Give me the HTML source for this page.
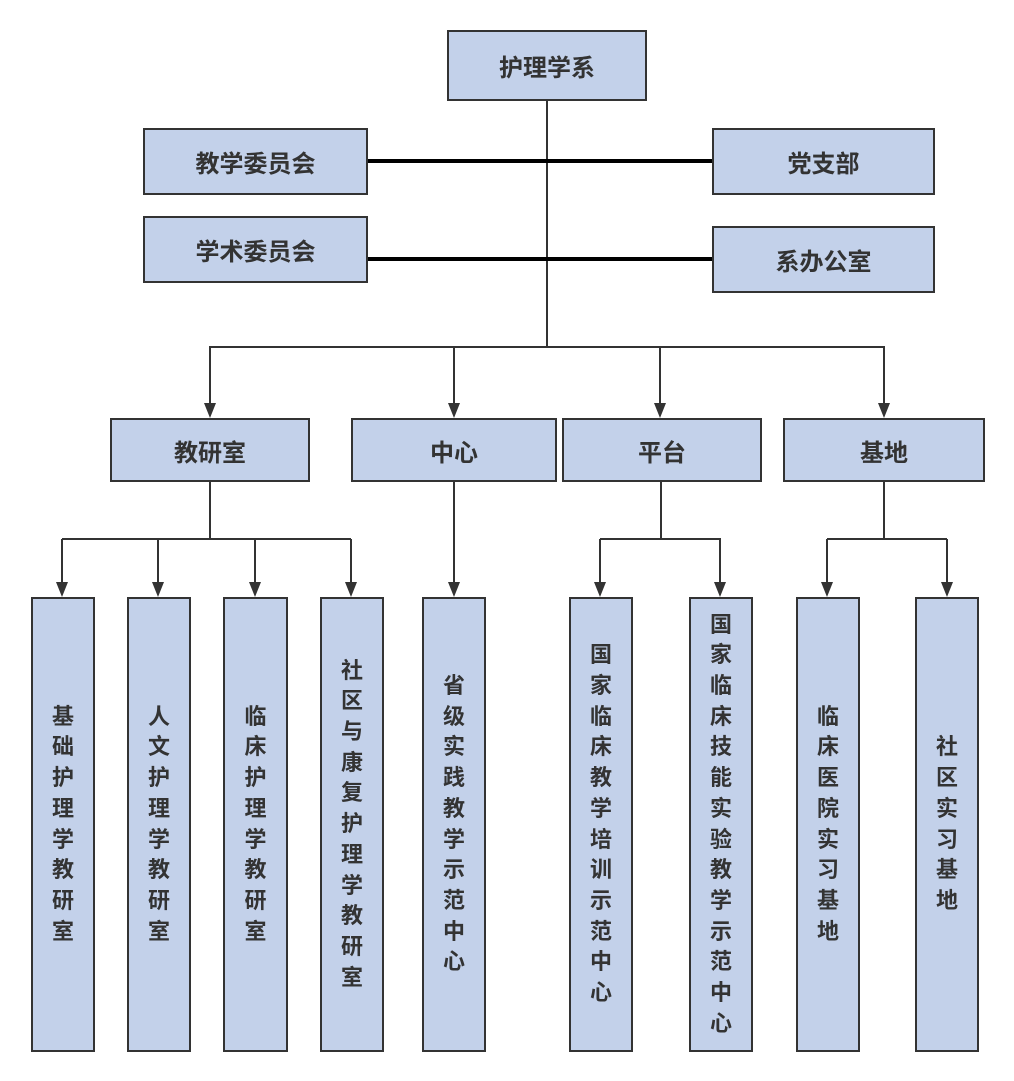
<!DOCTYPE html>
<html><head><meta charset="utf-8"><style>
body{margin:0;width:1014px;height:1081px;background:#fff;position:relative;overflow:hidden;font-family:"Liberation Sans","Noto Sans CJK SC",sans-serif;}
.b{position:absolute;box-sizing:border-box;background:#c3d1ea;border:2px solid #333;display:flex;align-items:center;justify-content:center;font-weight:bold;font-size:24px;color:#333;}
.v{flex-direction:column;line-height:30.7px;text-align:center;font-size:22px;}
.v span{display:block;width:22px;}
svg{position:absolute;left:0;top:0;}
</style></head><body>
<svg width="1014" height="1081">
<g stroke="#333" stroke-width="2" fill="none">
<line x1="547" y1="100" x2="547" y2="347"/>
<line x1="209" y1="347" x2="885" y2="347"/>
<line x1="210" y1="347" x2="210" y2="406"/>
<line x1="454" y1="347" x2="454" y2="406"/>
<line x1="660" y1="347" x2="660" y2="406"/>
<line x1="884" y1="347" x2="884" y2="406"/>
<line x1="210" y1="481" x2="210" y2="539"/>
<line x1="62" y1="539" x2="351" y2="539"/>
<line x1="62" y1="539" x2="62" y2="585"/>
<line x1="158" y1="539" x2="158" y2="585"/>
<line x1="255" y1="539" x2="255" y2="585"/>
<line x1="351" y1="539" x2="351" y2="585"/>
<line x1="454" y1="481" x2="454" y2="585"/>
<line x1="661" y1="481" x2="661" y2="539"/>
<line x1="600" y1="539" x2="721" y2="539"/>
<line x1="600" y1="539" x2="600" y2="585"/>
<line x1="720" y1="539" x2="720" y2="585"/>
<line x1="884" y1="481" x2="884" y2="539"/>
<line x1="827" y1="539" x2="947" y2="539"/>
<line x1="827" y1="539" x2="827" y2="585"/>
<line x1="947" y1="539" x2="947" y2="585"/>
</g>
<g stroke="#000" stroke-width="4">
<line x1="367" y1="161" x2="712" y2="161"/>
<line x1="367" y1="259" x2="712" y2="259"/>
</g>
<g fill="#333">
<polygon points="204,403 216,403 210,418"/>
<polygon points="448,403 460,403 454,418"/>
<polygon points="654,403 666,403 660,418"/>
<polygon points="878,403 890,403 884,418"/>
<polygon points="56,582 68,582 62,597"/>
<polygon points="152,582 164,582 158,597"/>
<polygon points="249,582 261,582 255,597"/>
<polygon points="345,582 357,582 351,597"/>
<polygon points="448,582 460,582 454,597"/>
<polygon points="594,582 606,582 600,597"/>
<polygon points="714,582 726,582 720,597"/>
<polygon points="821,582 833,582 827,597"/>
<polygon points="941,582 953,582 947,597"/>
</g>
</svg>
<div class="b" style="left:447px;top:30px;width:200px;height:71px">护理学系</div>
<div class="b" style="left:143px;top:128px;width:225px;height:67px">教学委员会</div>
<div class="b" style="left:712px;top:128px;width:223px;height:67px">党支部</div>
<div class="b" style="left:143px;top:216px;width:225px;height:67px">学术委员会</div>
<div class="b" style="left:712px;top:226px;width:223px;height:67px">系办公室</div>
<div class="b" style="left:110px;top:418px;width:200px;height:64px">教研室</div>
<div class="b" style="left:351px;top:418px;width:206px;height:64px">中心</div>
<div class="b" style="left:562px;top:418px;width:200px;height:64px">平台</div>
<div class="b" style="left:783px;top:418px;width:202px;height:64px">基地</div>
<div class="b v" style="left:31px;top:597px;width:64px;height:455px"><span>基</span><span>础</span><span>护</span><span>理</span><span>学</span><span>教</span><span>研</span><span>室</span></div>
<div class="b v" style="left:127px;top:597px;width:64px;height:455px"><span>人</span><span>文</span><span>护</span><span>理</span><span>学</span><span>教</span><span>研</span><span>室</span></div>
<div class="b v" style="left:223px;top:597px;width:65px;height:455px"><span>临</span><span>床</span><span>护</span><span>理</span><span>学</span><span>教</span><span>研</span><span>室</span></div>
<div class="b v" style="left:320px;top:597px;width:64px;height:455px"><span>社</span><span>区</span><span>与</span><span>康</span><span>复</span><span>护</span><span>理</span><span>学</span><span>教</span><span>研</span><span>室</span></div>
<div class="b v" style="left:422px;top:597px;width:64px;height:455px"><span>省</span><span>级</span><span>实</span><span>践</span><span>教</span><span>学</span><span>示</span><span>范</span><span>中</span><span>心</span></div>
<div class="b v" style="left:569px;top:597px;width:64px;height:455px"><span>国</span><span>家</span><span>临</span><span>床</span><span>教</span><span>学</span><span>培</span><span>训</span><span>示</span><span>范</span><span>中</span><span>心</span></div>
<div class="b v" style="left:689px;top:597px;width:64px;height:455px"><span>国</span><span>家</span><span>临</span><span>床</span><span>技</span><span>能</span><span>实</span><span>验</span><span>教</span><span>学</span><span>示</span><span>范</span><span>中</span><span>心</span></div>
<div class="b v" style="left:796px;top:597px;width:64px;height:455px"><span>临</span><span>床</span><span>医</span><span>院</span><span>实</span><span>习</span><span>基</span><span>地</span></div>
<div class="b v" style="left:915px;top:597px;width:64px;height:455px"><span>社</span><span>区</span><span>实</span><span>习</span><span>基</span><span>地</span></div>
</body></html>
